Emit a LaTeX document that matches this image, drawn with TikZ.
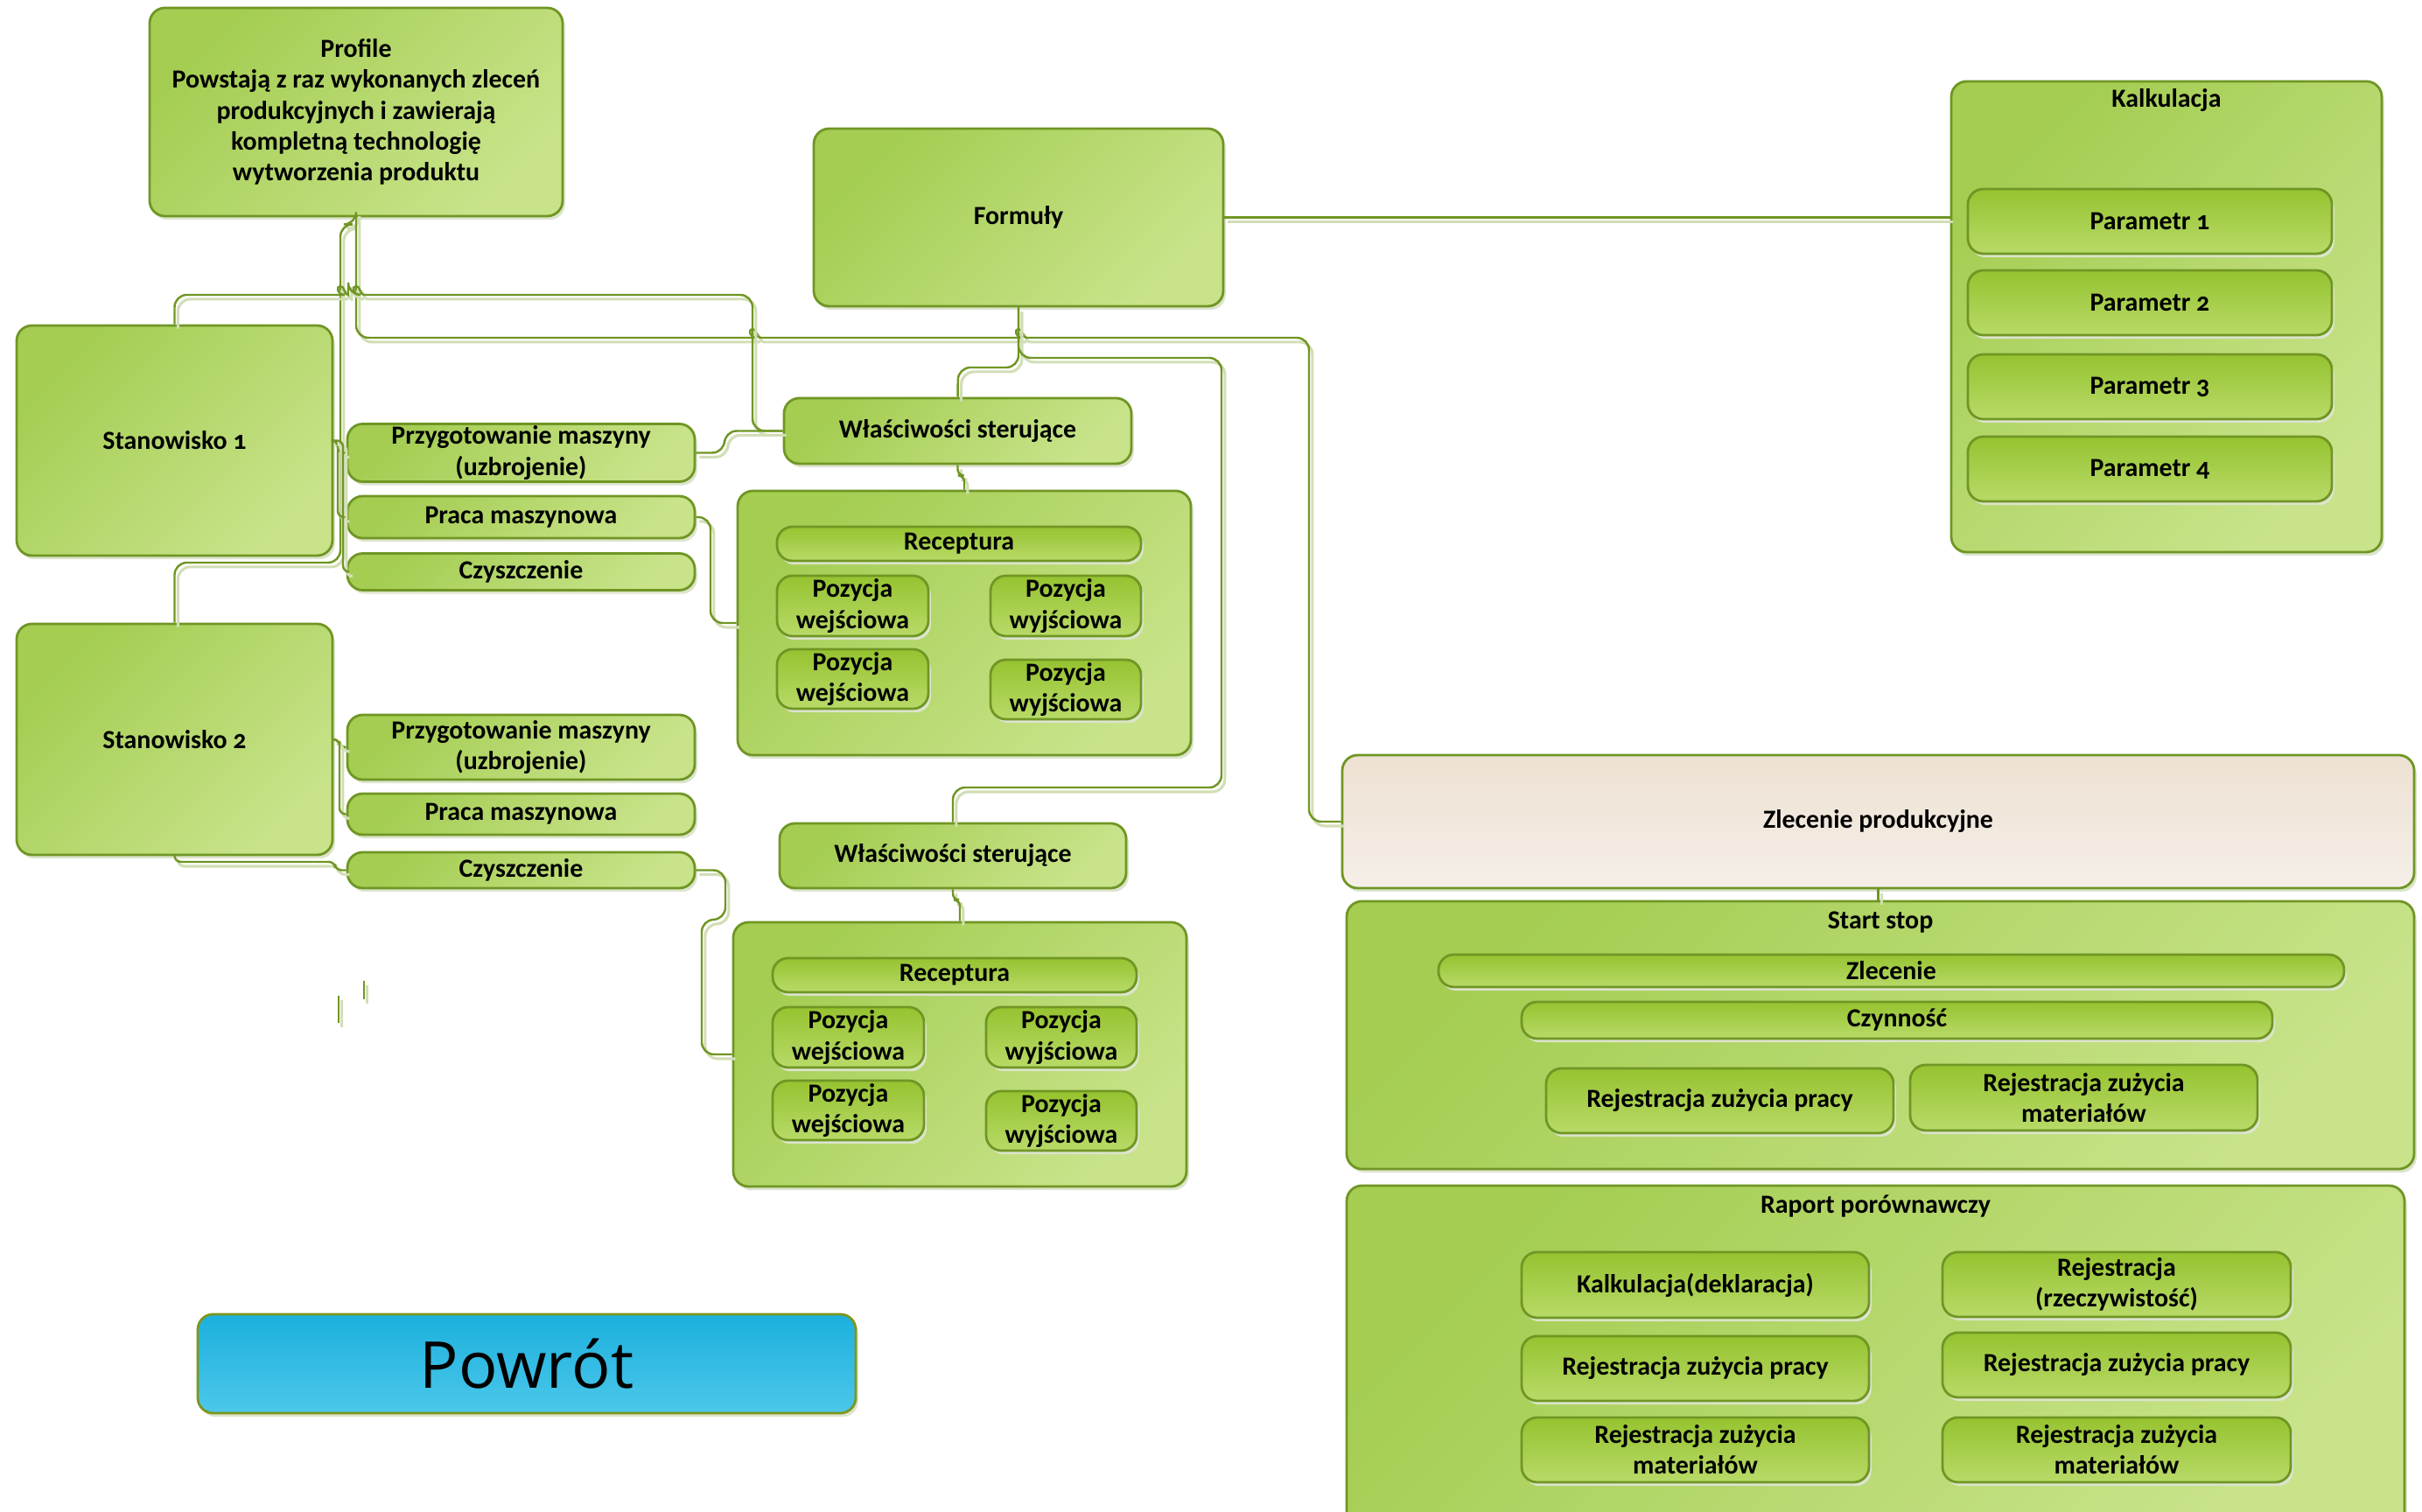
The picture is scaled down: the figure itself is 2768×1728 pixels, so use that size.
\documentclass[tikz,border=0pt]{standalone}
\usepackage{fontspec}
\setmainfont{Carlito}[Numbers=OldStyle]
\newfontfamily\backfont{Open Sans}
\usepackage{tikz}
\usetikzlibrary{shadows}

\definecolor{GrnDark}{RGB}{164,205,82}
\definecolor{GrnLight}{RGB}{200,227,138}
\definecolor{ItemDark}{RGB}{150,195,48}
\definecolor{ItemLight}{RGB}{184,218,104}
\definecolor{GrnLine}{RGB}{112,150,36}
\definecolor{LineShadow}{RGB}{210,222,182}
\definecolor{BoxShadow}{RGB}{220,228,204}
\definecolor{OrderTop}{RGB}{237,225,210}
\definecolor{OrderBot}{RGB}{245,239,232}
\definecolor{BackTop}{RGB}{28,176,221}
\definecolor{BackBot}{RGB}{76,199,234}
\definecolor{BackLine}{RGB}{125,150,30}

% small bump where a connector jumps over another one
\newcommand{\linehop}[2]{-- ({#1-9},#2) [sharp corners] .. controls ({#1-4},#2) and ({#1-5},{#2-10}) .. (#1,{#2-10}) .. controls ({#1+5},{#2-10}) and ({#1+4},#2) .. ({#1+9},#2) [rounded corners=4pt]}

\tikzset{
  wh/.style 2 args={minimum width=#1*0.01cm, minimum height=#2*0.01cm},
  box/.style={draw=GrnLine, line width=0.8pt, rounded corners=5pt,
    top color=GrnDark, bottom color=GrnLight, shading angle=45,
    drop shadow={shadow xshift=0.8pt, shadow yshift=-1.2pt, fill=BoxShadow, opacity=1}},
  item/.style={box, top color=ItemDark, bottom color=ItemLight},
  order/.style={box, top color=OrderTop, bottom color=OrderBot},
  back/.style={box, draw=BackLine, top color=BackTop, bottom color=BackBot,
    font=\backfont\fontsize{21}{25}\selectfont},
  conn/.style={draw=GrnLine, line width=0.7pt, rounded corners=4pt,
    preaction={draw=LineShadow, line width=0.9pt, transform canvas={shift={(1.1pt,-1.4pt)}}}}
}

\begin{document}
\begin{tikzpicture}[x=0.01cm, y=-0.01cm,
      every node/.append style={font=\fontsize{8.5}{10}\selectfont\bfseries, align=center, inner sep=0pt}]
  \useasboundingbox (0,0) rectangle (2768,1728);

  % left column
  \node[box, wh={472}{238}] (prof) at (407,128) {Profile\\Powstają z raz wykonanych zleceń\\produkcyjnych i zawierają\\kompletną technologię\\wytworzenia produktu};
  \node[box, wh={361}{263}] (st1) at (199.5,503.5) {Stanowisko 1};
  \node[box, wh={361}{264}] (st2) at (199.5,845) {Stanowisko 2};
  \node[box, wh={397}{66}] (pm1) at (595.5,517.5) {Przygotowanie maszyny\\(uzbrojenie)};
  \node[box, wh={397}{48}] (pr1) at (595.5,591) {Praca maszynowa};
  \node[box, wh={397}{42}] (cz1) at (595.5,653.5) {Czyszczenie};
  \node[box, wh={397}{74}] (pm2) at (595.5,854) {Przygotowanie maszyny\\(uzbrojenie)};
  \node[box, wh={397}{47}] (pr2) at (595.5,930.5) {Praca maszynowa};
  \node[box, wh={397}{41}] (cz2) at (595.5,994.5) {Czyszczenie};
  \node[back, wh={752}{113}] (back) at (602,1558.5) {Powrót};

  % middle column
  \node[box, wh={468}{203}] (form) at (1164,248.5) {Formuły};
  \node[box, wh={397}{75}] (w1) at (1094.5,492.5) {Właściwości sterujące};
  \node[box, wh={396}{74}] (w2) at (1089,978) {Właściwości sterujące};
  \foreach \g/\dx/\dy in {1/0/0,2/-5/493}{
    \begin{scope}[shift={(\dx,\dy)}]
      \node[box, wh={518}{302}] (rec\g) at (1102,712) {};
      \node[item, wh={416}{39}] (rb\g) at (1096,621.5) {Receptura};
      \node[item, wh={173}{69}] (pinA\g) at (974.5,692.5) {Pozycja\\wejściowa};
      \node[item, wh={172}{69}] (poutA\g) at (1218,692.5) {Pozycja\\wyjściowa};
      \node[item, wh={173}{68}] (pinB\g) at (974.5,776) {Pozycja\\wejściowa};
      \node[item, wh={172}{68}] (poutB\g) at (1218,788) {Pozycja\\wyjściowa};
    \end{scope}}

  % right column
  \node[box, wh={492}{538}] (kal) at (2476,362) {};
  \node (kalt) at (2476,115) {Kalkulacja};
  \foreach \i/\y in {1/253,2/346,3/442,4/536}
    \node[item, wh={416}{74}] (par\i) at (2457,\y) {Parametr \i};

  \node[order, wh={1225}{152}] (zp) at (2146.5,939) {Zlecenie produkcyjne};
  \node[box, wh={1220}{306}] (ss) at (2149,1183) {};
  \node (sst) at (2149,1054) {Start stop};
  \node[item, wh={1035}{37}] (zl) at (2161.5,1109.5) {Zlecenie};
  \node[item, wh={858}{42}] (czy) at (2168,1166) {Czynność};
  \node[item, wh={397}{74}] (rzp) at (1965.5,1258) {Rejestracja zużycia pracy};
  \node[item, wh={397}{75}] (rzm) at (2381.5,1254.5) {Rejestracja zużycia\\materiałów};

  \node[box, wh={1209}{390}] (rap) at (2143.5,1550) {};
  \node (rapt) at (2143.5,1379) {Raport porównawczy};
  \node[item, wh={397}{75}] (kd) at (1937.5,1468.5) {Kalkulacja(deklaracja)};
  \node[item, wh={398}{74}] (rrz) at (2419,1468) {Rejestracja\\(rzeczywistość)};
  \node[item, wh={397}{74}] (rp1) at (1937.5,1564) {Rejestracja zużycia pracy};
  \node[item, wh={398}{74}] (rp2) at (2419,1560) {Rejestracja zużycia pracy};
  \node[item, wh={397}{74}] (rm1) at (1937.5,1657) {Rejestracja zużycia\\materiałów};
  \node[item, wh={398}{74}] (rm2) at (2419,1657) {Rejestracja zużycia\\materiałów};

  % connectors
  \draw[conn] (prof.south) -- ++(0,8) -| (389,643) -| (st2.north);
  \draw[conn] (prof.south) |- (850,386) \linehop{860}{386} -- (1150,386) \linehop{1164}{386} -- (1496,386) |- (zp.west);
  \draw[conn] (st1.north) |- (371,337) \linehop{389}{337} \linehop{407}{337} -- (860,337) |- (w1.west);
  \draw[conn] (form.east) -- (kal.west |- form.east);
  \draw[conn] (form.south) |- (1095,420) -- (w1.north);
  \draw[conn] (form.south) |- (1396,409) |- (1089,900) -- (w2.north);
  \draw[conn, rounded corners=2pt] (w1.south) -- ++(0,12) -| (rec1.north);
  \draw[conn, rounded corners=2pt] (w2.south) -- ++(0,12) -| (rec2.north);
  \draw[conn, rounded corners=2pt] (st1.east) -- (386,503.5) |- (pm1.west);
  \draw[conn, rounded corners=2pt] (st1.east) -- (386,503.5) |- (pr1.west);
  \draw[conn, rounded corners=2pt] (st1.east) -- (392,503.5) |- (cz1.west);
  \draw[conn, rounded corners=2pt] (st2.east) -- (388,845) |- (pm2.west);
  \draw[conn, rounded corners=2pt] (st2.east) -- (388,845) |- (pr2.west);
  \draw[conn, rounded corners=2pt] (st2.south) |- (383,985) |- (cz2.west);
  \draw[conn] (pm1.east) -- (828,517.5) |- (w1.west);
  \draw[conn] (pr1.east) -| (812,712) -- (rec1.west);
  \draw[conn] (cz2.east) -| (829,1051) -| (802,1205) -- (rec2.west);
  \draw[conn] (zp.south) -- (zp.south |- ss.north);

  % loose strokes left under the second station
  \draw[conn] (387,1138) -- (387,1169);
  \draw[conn] (416,1121) -- (416,1142);
\end{tikzpicture}
\end{document}
